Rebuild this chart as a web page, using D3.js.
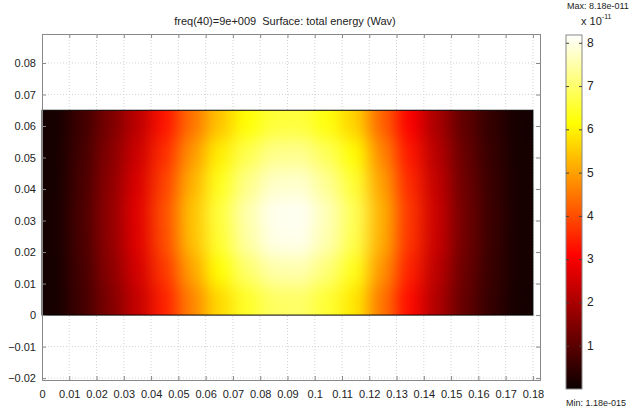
<!DOCTYPE html>
<html>
<head>
<meta charset="utf-8">
<script src="https://cdn.jsdelivr.net/npm/d3@7"></script>
<style>
  body { margin: 0; background: #fff; }
  text { font-family: "Liberation Sans", Arial, sans-serif; fill: #222; }
</style>
</head>
<body>
<div id="chart"></div>
<script>
// x tick values (m)
var xTicks = [0, 0.01, 0.02, 0.03, 0.04, 0.05, 0.06, 0.07, 0.08, 0.09, 0.1,
  0.11, 0.12, 0.13, 0.14, 0.15, 0.16, 0.17, 0.18];
var yTicks = [-0.02, -0.01, 0, 0.01, 0.02, 0.03, 0.04, 0.05, 0.06, 0.07, 0.08];
var cbTicks = [1, 2, 3, 4, 5, 6, 7, 8];

// column centres (x) and row centres (y, top to bottom)
var colX = [0.005, 0.015, 0.025, 0.035, 0.045, 0.055, 0.065, 0.075, 0.085,
  0.095, 0.105, 0.115, 0.125, 0.135, 0.145, 0.155, 0.165, 0.175];
var rowY = [0.0604, 0.0511, 0.0418, 0.0325, 0.0232, 0.0139, 0.0046];

// total energy, x 1e-11 (rows top -> bottom)
var energy = [
  [0.12, 0.66, 1.39, 2.21, 3.28, 4.43, 5.41, 6.15, 6.60, 6.64, 6.23, 5.58, 4.26, 3.03, 1.97, 1.07, 0.49, 0.12],
  [0.14, 0.72, 1.53, 2.43, 3.60, 4.86, 5.94, 6.75, 7.25, 7.29, 6.84, 6.12, 4.68, 3.33, 2.16, 1.17, 0.54, 0.14],
  [0.14, 0.77, 1.63, 2.59, 3.84, 5.18, 6.34, 7.20, 7.73, 7.78, 7.30, 6.53, 4.99, 3.55, 2.30, 1.25, 0.58, 0.14],
  [0.15, 0.80, 1.70, 2.70, 4.00, 5.40, 6.60, 7.50, 8.05, 8.10, 7.60, 6.80, 5.20, 3.70, 2.40, 1.30, 0.60, 0.15],
  [0.15, 0.79, 1.68, 2.67, 3.96, 5.35, 6.53, 7.43, 7.97, 8.02, 7.52, 6.73, 5.15, 3.66, 2.38, 1.29, 0.59, 0.15],
  [0.14, 0.74, 1.58, 2.51, 3.72, 5.02, 6.14, 6.98, 7.49, 7.53, 7.07, 6.32, 4.84, 3.44, 2.23, 1.21, 0.56, 0.14],
  [0.13, 0.69, 1.46, 2.32, 3.44, 4.64, 5.68, 6.45, 6.92, 6.97, 6.54, 5.85, 4.47, 3.18, 2.06, 1.12, 0.52, 0.13]
];
var eMin = 1.18e-15 / 1e-11, eMax = 8.18;

var width = 632, height = 410;
var svg = d3.select("#chart").append("svg")
  .attr("width", width).attr("height", height);

var x = d3.scaleLinear().domain([0, 0.1826]).range([42, 540]);
var y = d3.scaleLinear().domain([-0.0206, 0.0892]).range([380, 34]);

// "hot" colormap
var color = d3.scaleLinear()
  .domain([0, eMax * 3 / 8, eMax * 6 / 8, eMax])
  .range(["#0b0000", "#ff0000", "#ffff00", "#ffffff"])
  .clamp(true);

// grid
var grid = svg.append("g").attr("stroke", "#d4d4d4").attr("stroke-dasharray", "1,2");
grid.selectAll("line.gx").data(xTicks.slice(1)).join("line")
  .attr("x1", d => x(d)).attr("x2", d => x(d)).attr("y1", 34).attr("y2", 380);
grid.selectAll("line.gy").data(yTicks).join("line")
  .attr("y1", d => y(d)).attr("y2", d => y(d)).attr("x1", 42).attr("x2", 540);

// heatmap
var defs = svg.append("defs");
var f = defs.append("filter").attr("id", "smooth")
  .attr("filterUnits", "userSpaceOnUse")
  .attr("x", 0).attr("y", 80).attr("width", 600).attr("height", 270)
  .attr("color-interpolation-filters", "sRGB");
f.append("feGaussianBlur").attr("stdDeviation", 9);
f.append("feComponentTransfer").append("feFuncA").attr("type", "table").attr("tableValues", "1 1");
defs.append("clipPath").attr("id", "rectClip").append("rect")
  .attr("x", x(0)).attr("y", y(0.065)).attr("width", x(0.18) - x(0)).attr("height", y(0) - y(0.065));

var colBand = d3.scaleBand().domain(colX).range([x(0), x(0.18)]);
var rowBand = d3.scaleBand().domain(rowY).range([y(0.065), y(0)]);
var cells = [];
energy.forEach((row, i) => row.forEach((v, j) => cells.push({ cx: colX[j], cy: rowY[i], v: v })));

svg.append("g").attr("clip-path", "url(#rectClip)")
  .append("g").attr("filter", "url(#smooth)")
  .selectAll("rect").data(cells).join("rect")
  .attr("x", d => colBand(d.cx) - 0.5).attr("y", d => rowBand(d.cy) - 0.5)
  .attr("width", colBand.bandwidth() + 1).attr("height", rowBand.bandwidth() + 1)
  .attr("fill", d => color(d.v));

svg.append("rect")
  .attr("x", x(0)).attr("y", y(0.065)).attr("width", x(0.18) - x(0)).attr("height", y(0) - y(0.065))
  .attr("fill", "none").attr("stroke", "#000").attr("stroke-width", 1);

// axes (ticks inside, MATLAB style)
svg.append("g").attr("transform", "translate(0,380)")
  .call(d3.axisBottom(x).tickValues(xTicks).tickSize(-4).tickPadding(10).tickFormat(d3.format("~g")));
svg.append("g").attr("transform", "translate(0,34)")
  .call(d3.axisTop(x).tickValues(xTicks).tickSize(-4).tickFormat(""));
svg.append("g").attr("transform", "translate(42,0)")
  .call(d3.axisLeft(y).tickValues(yTicks).tickSize(-4).tickPadding(6).tickFormat(d3.format("~g")));
svg.append("g").attr("transform", "translate(540,0)")
  .call(d3.axisRight(y).tickValues(yTicks).tickSize(-4).tickFormat(""));
svg.selectAll(".domain").attr("stroke", "#888");
svg.selectAll(".tick line").attr("stroke", "#888");
svg.selectAll(".tick text").attr("font-size", 11).attr("fill", "#222")
  .style("font-family", "'Liberation Sans', Arial, sans-serif");

// title
svg.append("text").attr("x", 285).attr("y", 25).attr("text-anchor", "middle")
  .attr("font-size", 11).style("white-space", "pre")
  .text("freq(40)=9e+009  Surface: total energy (Wav)");

// colorbar
var cb = d3.scaleLinear().domain([0, eMax]).range([389, 35]);
var grad = defs.append("linearGradient").attr("id", "cbGrad")
  .attr("x1", 0).attr("x2", 0).attr("y1", 1).attr("y2", 0);
grad.selectAll("stop").data(color.domain()).join("stop")
  .attr("offset", d => d / eMax).attr("stop-color", d => color(d));
svg.append("rect").attr("x", 566).attr("y", cb(eMax)).attr("width", 16).attr("height", cb(0) - cb(eMax))
  .attr("fill", "url(#cbGrad)").attr("stroke", "#888");
svg.append("g").attr("transform", "translate(566,0)")
  .call(d3.axisRight(cb).tickValues(cbTicks).tickSize(3).tickFormat(""))
  .select(".domain").remove();
svg.append("g").attr("transform", "translate(582,0)")
  .call(d3.axisLeft(cb).tickValues(cbTicks).tickSize(3).tickFormat(""))
  .select(".domain").remove();
svg.selectAll("g").filter(function () { return this.getAttribute("transform") && /^translate\(5(66|82)/.test(this.getAttribute("transform")); })
  .selectAll("line").attr("stroke", "#444");
svg.append("g").selectAll("text").data(cbTicks).join("text")
  .attr("x", 587).attr("y", d => cb(d) + 4).attr("font-size", 12).text(d => d);

svg.append("text").attr("x", 567).attr("y", 9).attr("font-size", 9).text("Max: 8.18e-011");
var t = svg.append("text").attr("x", 581).attr("y", 25).attr("font-size", 11).text("x 10");
t.append("tspan").attr("dy", -6).attr("font-size", 7).text("-11");
svg.append("text").attr("x", 566).attr("y", 406).attr("font-size", 9).text("Min: " + d3.format(".2e")(eMin * 1e-11).replace("e-15", "e-015"));
</script>
</body>
</html>
